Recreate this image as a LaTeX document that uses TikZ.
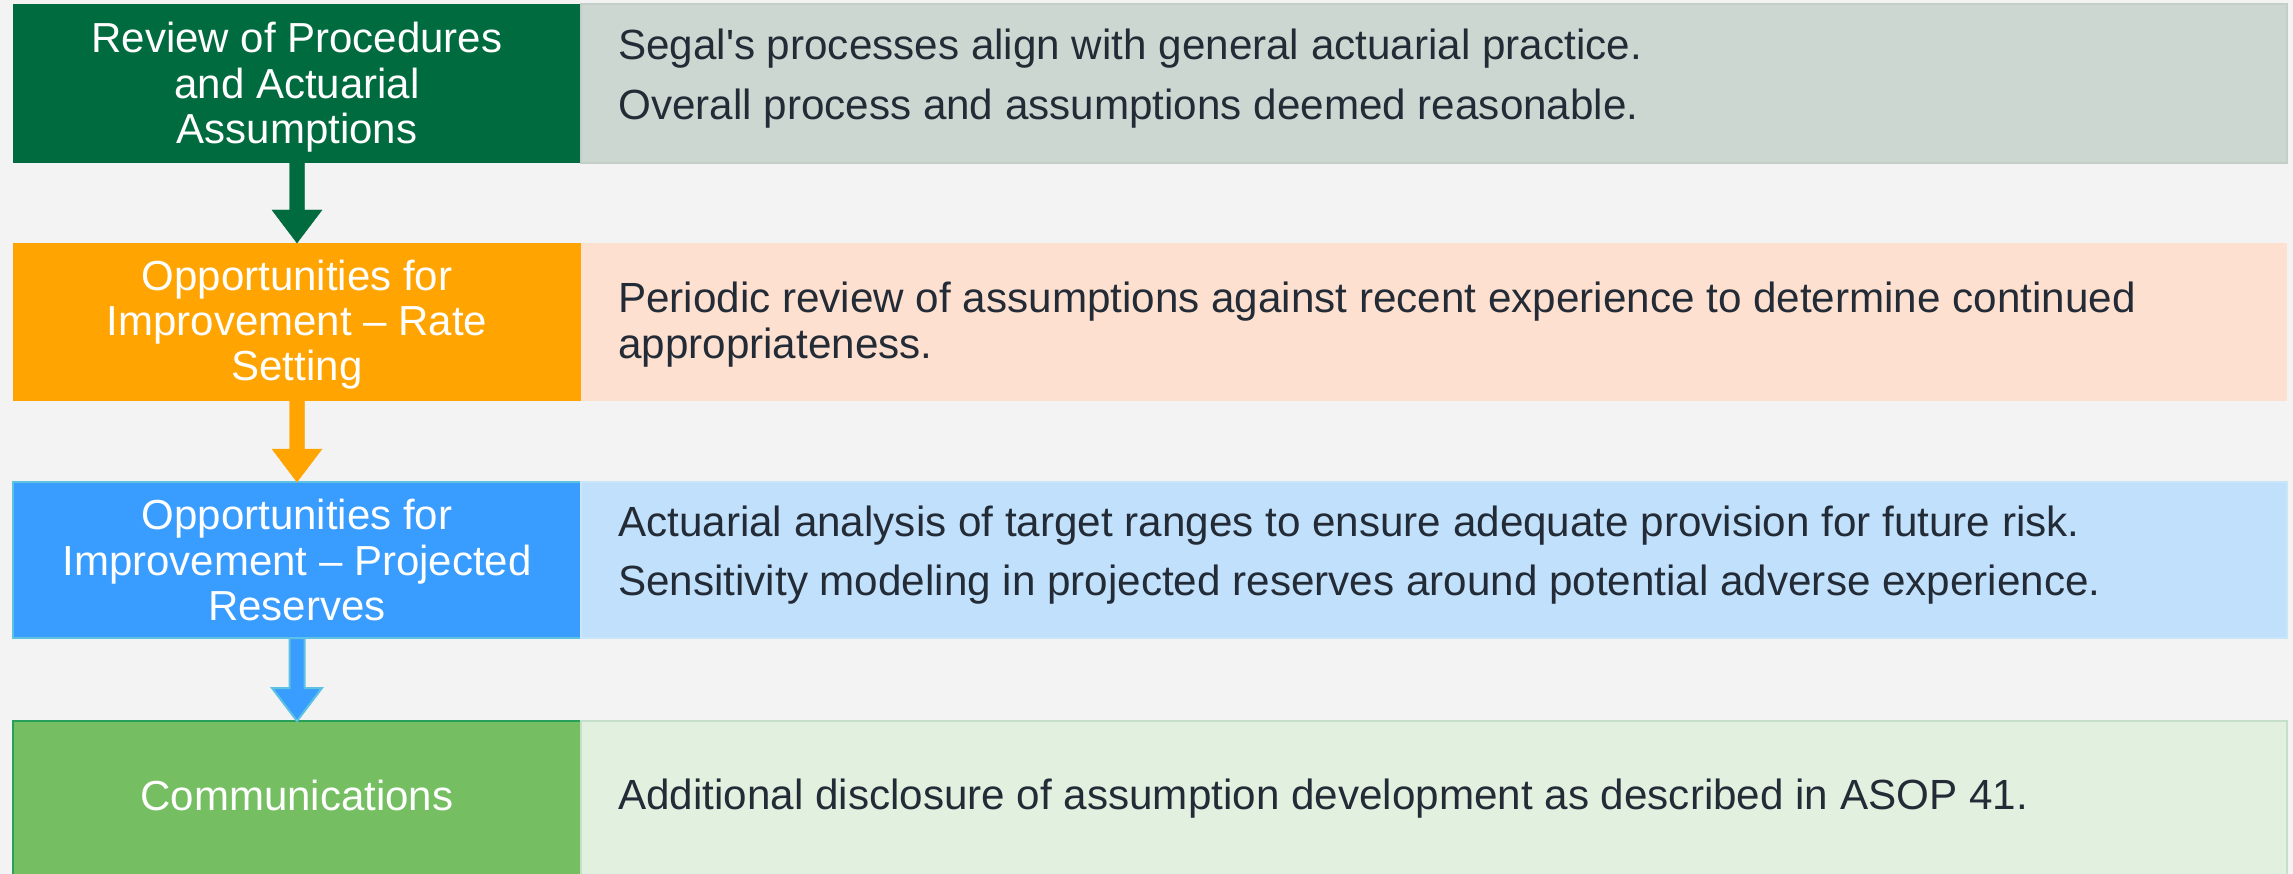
\documentclass[tikz,border=0pt]{standalone}
\usepackage{fontspec}
\setmainfont{Liberation Sans}[Ligatures=TeXOff]

\definecolor{pagebg}{HTML}{F3F3F3}
\definecolor{deepgreen}{HTML}{006B3F}
\definecolor{sage}{HTML}{CDD7D1}
\definecolor{sageedge}{HTML}{C3CEC8}
\definecolor{amber}{HTML}{FFA400}
\definecolor{peach}{HTML}{FDE0CF}
\definecolor{skyblue}{HTML}{399CFF}
\definecolor{skyedge}{HTML}{5CC1E3}
\definecolor{paleblue}{HTML}{C1E0FB}
\definecolor{paleblueedge}{HTML}{CBE6F7}
\definecolor{leaf}{HTML}{75BF62}
\definecolor{leafedge}{HTML}{27A05A}
\definecolor{mint}{HTML}{E2F0E0}
\definecolor{mintedge}{HTML}{C6DFC8}
\definecolor{inkdark}{HTML}{232B36}

% draws a block arrow from the bottom of one box to the top of the next
\newcommand\flowarrow[3]{%
  \filldraw[#1]
    ([xshift=-7.5pt]#2.south) -- ([xshift=-7.5pt,yshift=33pt]#3.north)
    -- ([xshift=-25pt,yshift=33pt]#3.north) -- (#3.north)
    -- ([xshift=25pt,yshift=33pt]#3.north) -- ([xshift=7.5pt,yshift=33pt]#3.north)
    -- ([xshift=7.5pt]#2.south) -- cycle;}

\begin{document}
\begin{tikzpicture}[x=1pt,y=-1pt,
  cell/.style={rectangle, inner sep=0pt, outer sep=0pt},
  stagebox/.style={cell, minimum width=568pt},
  notebox/.style={cell, minimum width=1706pt},
  stagetext/.style={anchor=base, inner sep=0pt, text=white,
    font=\fontsize{42pt}{45pt}\selectfont},
  notetext/.style={anchor=base west, inner sep=0pt, text=inkdark,
    font=\fontsize{42.2pt}{45pt}\selectfont}]

\useasboundingbox (0,0) rectangle (2293,874);
\clip (0,0) rectangle (2293,874);
\fill[pagebg] (0,0) rectangle (2293,874);

% stage boxes (left column)
\node[stagebox, fill=deepgreen, minimum height=159pt] (s1) at (297,83.5) {};
\node[stagebox, fill=amber, minimum height=158pt] (s2) at (297,322) {};
\node[stagebox, fill=skyblue, draw=skyedge, line width=2pt, minimum height=156pt] (s3) at (297,560) {};
\node[stagebox, fill=leaf, draw=leafedge, line width=1.2pt, minimum height=159pt] (s4) at (297,800.5) {};

% note boxes (right column)
\node[notebox, fill=sage, draw=sageedge, line width=1.5pt, minimum height=159pt] (n1) at (1434,83.5) {};
\node[notebox, fill=peach, minimum height=158pt] (n2) at (1434,322) {};
\node[notebox, fill=paleblue, draw=paleblueedge, line width=2pt, minimum height=156pt] (n3) at (1434,560) {};
\node[notebox, fill=mint, draw=mintedge, line width=2pt, minimum height=159pt] (n4) at (1434,800.5) {};

% connectors
\flowarrow{deepgreen}{s1}{s2}
\flowarrow{amber}{s2}{s3}
\flowarrow{fill=skyblue, draw=skyedge, line width=2pt, line join=miter}{s3}{s4}

% stage labels
\node[stagetext] (s1a) at (297,52.7) {Review of Procedures};
\node[stagetext] (s1b) at (297,98.3) {and Actuarial};
\node[stagetext] (s1c) at (297,144) {Assumptions};

\node[stagetext] (s2a) at (297,291) {Opportunities for};
\node[stagetext] (s2b) at (297,335.7) {Improvement – Rate};
\node[stagetext] (s2c) at (297,380.7) {Setting};

\node[stagetext] (s3a) at (297,529.3) {Opportunities for};
\node[stagetext] (s3b) at (297,575) {Improvement – Projected};
\node[stagetext] (s3c) at (297,620) {Reserves};

\node[stagetext] (s4a) at (297,810) {Communications};

% notes
\node[notetext] (n1a) at (618,59.3) {Segal's processes align with general actuarial practice.};
\node[notetext] (n1b) at (618,119.3) {Overall process and assumptions deemed reasonable.};

\node[notetext] (n2a) at (618,312.7) {Periodic review of assumptions against recent experience to determine continued};
\node[notetext] (n2b) at (618,358.3) {appropriateness.};

\node[notetext] (n3a) at (618,536) {Actuarial analysis of target ranges to ensure adequate provision for future risk.};
\node[notetext] (n3b) at (618,595) {Sensitivity modeling in projected reserves around potential adverse experience.};

\node[notetext] (n4a) at (618,809.3) {Additional disclosure of assumption development as described in ASOP 41.};
\end{tikzpicture}
\end{document}
